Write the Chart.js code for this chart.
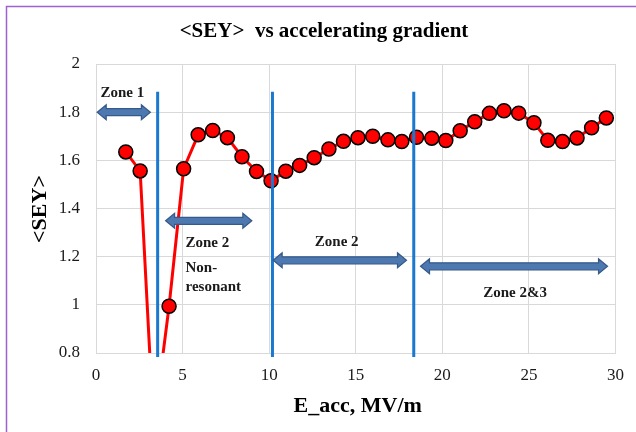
<!DOCTYPE html>
<html>
<head>
<meta charset="utf-8">
<script src="https://cdn.jsdelivr.net/npm/chart.js@4/dist/chart.umd.min.js"></script>
<style>
html,body{margin:0;padding:0;background:#fff;}
#wrap{width:636px;height:432px;}
</style>
</head>
<body>
<div id="wrap"><canvas id="c" width="636" height="432"></canvas></div>
<script>
// ---- data ----
const eAcc = [1.72, 2.55, 3.33, 4.22, 5.06, 5.90, 6.74, 7.59, 8.43, 9.27, 10.11, 10.96, 11.76, 12.60, 13.45, 14.29, 15.13, 15.98, 16.86, 17.66, 18.51, 19.39, 20.20, 21.03, 21.87, 22.72, 23.56, 24.41, 25.29, 26.09, 26.94, 27.78, 28.62, 29.47];
const sey = [1.635, 1.556, 0.49, 0.994, 1.565, 1.706, 1.724, 1.694, 1.615, 1.554, 1.515, 1.555, 1.579, 1.611, 1.647, 1.679, 1.694, 1.700, 1.685, 1.678, 1.696, 1.692, 1.682, 1.723, 1.760, 1.795, 1.806, 1.796, 1.756, 1.683, 1.678, 1.693, 1.735, 1.776];
const zoneBoundaries = [3.56, 10.19, 18.35];
const boundaryTop = 1.885;
const boundaryBottom = 0.783;
const xTicks = [0, 5, 10, 15, 20, 25, 30];
const yTicks = [0.8, 1, 1.2, 1.4, 1.6, 1.8, 2];
const arrowFrom = [0.07, 4.02, 10.23, 18.74];
const arrowTo = [3.14, 9.0, 17.93, 29.54];
const arrowY = [1.80, 1.349, 1.185, 1.16];
const labelText = ["Zone 1", "Zone 2", "Non-", "resonant", "Zone 2", "Zone 2&3"];
const labelX = [1.52, 5.17, 5.17, 5.17, 13.9, 24.2];
const labelY = [1.881, 1.257, 1.152, 1.074, 1.26, 1.047];
const labelAlign = ["center", "left", "left", "left", "center", "center"];
const chartTitle = "<SEY>  vs accelerating gradient";
const xTitle = "E_acc, MV/m";
const yTitle = "<SEY>";

const SERIF = "'Liberation Serif', 'Times New Roman', serif";

const datasets = [{
  data: eAcc.map((x, i) => ({x: x, y: sey[i]})),
  borderColor: '#ff0000',
  borderWidth: 3,
  backgroundColor: '#ff0000',
  pointRadius: 7,
  pointBorderColor: '#000000',
  pointBorderWidth: 1.5,
  pointBackgroundColor: '#ff0000',
  tension: 0,
  order: 1
}];
zoneBoundaries.forEach(b => {
  datasets.push({
    data: [{x: b, y: boundaryTop}, {x: b, y: boundaryBottom}],
    borderColor: '#1a78cf',
    borderWidth: 3,
    pointRadius: 0,
    clip: false,
    order: 0
  });
});

function drawArrow(ctx, x1, x2, yc) {
  const sh = 3.5, hh = 7.5, hl = 9;
  ctx.beginPath();
  ctx.moveTo(x1, yc);
  ctx.lineTo(x1 + hl, yc - hh);
  ctx.lineTo(x1 + hl, yc - sh);
  ctx.lineTo(x2 - hl, yc - sh);
  ctx.lineTo(x2 - hl, yc - hh);
  ctx.lineTo(x2, yc);
  ctx.lineTo(x2 - hl, yc + hh);
  ctx.lineTo(x2 - hl, yc + sh);
  ctx.lineTo(x1 + hl, yc + sh);
  ctx.lineTo(x1 + hl, yc + hh);
  ctx.closePath();
  ctx.fillStyle = '#4e78b0';
  ctx.fill();
  ctx.lineWidth = 1.2;
  ctx.strokeStyle = '#34598a';
  ctx.stroke();
}

const decor = {
  id: 'decor',
  beforeDraw(chart) {
    const ctx = chart.ctx;
    ctx.save();
    ctx.fillStyle = '#ffffff';
    ctx.fillRect(0, 0, chart.width, chart.height);
    ctx.strokeStyle = '#9b63d2';
    ctx.lineWidth = 1.5;
    ctx.strokeRect(6.5, 6.5, 800, 800);
    ctx.restore();
  },
  afterDraw(chart) {
    const ctx = chart.ctx;
    const xs = chart.scales.x, ys = chart.scales.y;
    ctx.save();
    for (let i = 0; i < arrowFrom.length; i++) {
      drawArrow(ctx, xs.getPixelForValue(arrowFrom[i]), xs.getPixelForValue(arrowTo[i]), ys.getPixelForValue(arrowY[i]));
    }
    ctx.fillStyle = '#1a1a1a';
    ctx.textBaseline = 'middle';
    ctx.font = 'bold 15px ' + SERIF;
    for (let i = 0; i < labelText.length; i++) {
      ctx.textAlign = labelAlign[i];
      ctx.fillText(labelText[i], xs.getPixelForValue(labelX[i]), ys.getPixelForValue(labelY[i]));
    }
    ctx.fillStyle = '#000000';
    ctx.textAlign = 'center';
    ctx.font = 'bold 21px ' + SERIF;
    ctx.fillText(chartTitle, 324, 32);
    ctx.font = 'bold 22px ' + SERIF;
    ctx.fillText(xTitle, (xs.left + xs.right) / 2 + 2, 406);
    ctx.translate(40, 209);
    ctx.rotate(-Math.PI / 2);
    ctx.fillText(yTitle, 0, 0);
    ctx.restore();
  }
};

new Chart(document.getElementById('c'), {
  type: 'line',
  data: { datasets: datasets },
  options: {
    responsive: false,
    animation: false,
    layout: { padding: { top: 64, right: 19, left: 0, bottom: 0 } },
    plugins: { legend: { display: false }, tooltip: { enabled: false }, title: { display: false } },
    scales: {
      x: {
        type: 'linear',
        min: 0, max: 30,
        afterFit(s) { s.height = 79; },
        afterBuildTicks(s) { s.ticks = xTicks.map(v => ({value: v})); },
        grid: { color: '#d9d9d9', lineWidth: 1, drawTicks: false },
        border: { color: '#d9d9d9' },
        ticks: { padding: 12, color: '#1a1a1a', font: { family: SERIF, size: 17 }, callback: v => String(Number(v)) }
      },
      y: {
        min: 0.8, max: 2,
        afterFit(s) { s.width = 96; },
        afterBuildTicks(s) { s.ticks = yTicks.map(v => ({value: v})); },
        grid: { color: '#d9d9d9', lineWidth: 1, drawTicks: false },
        border: { color: '#d9d9d9' },
        ticks: { padding: 16, color: '#1a1a1a', font: { family: SERIF, size: 17 }, callback: v => String(Number(v.toFixed(1))) }
      }
    }
  },
  plugins: [decor]
});
</script>
</body>
</html>
